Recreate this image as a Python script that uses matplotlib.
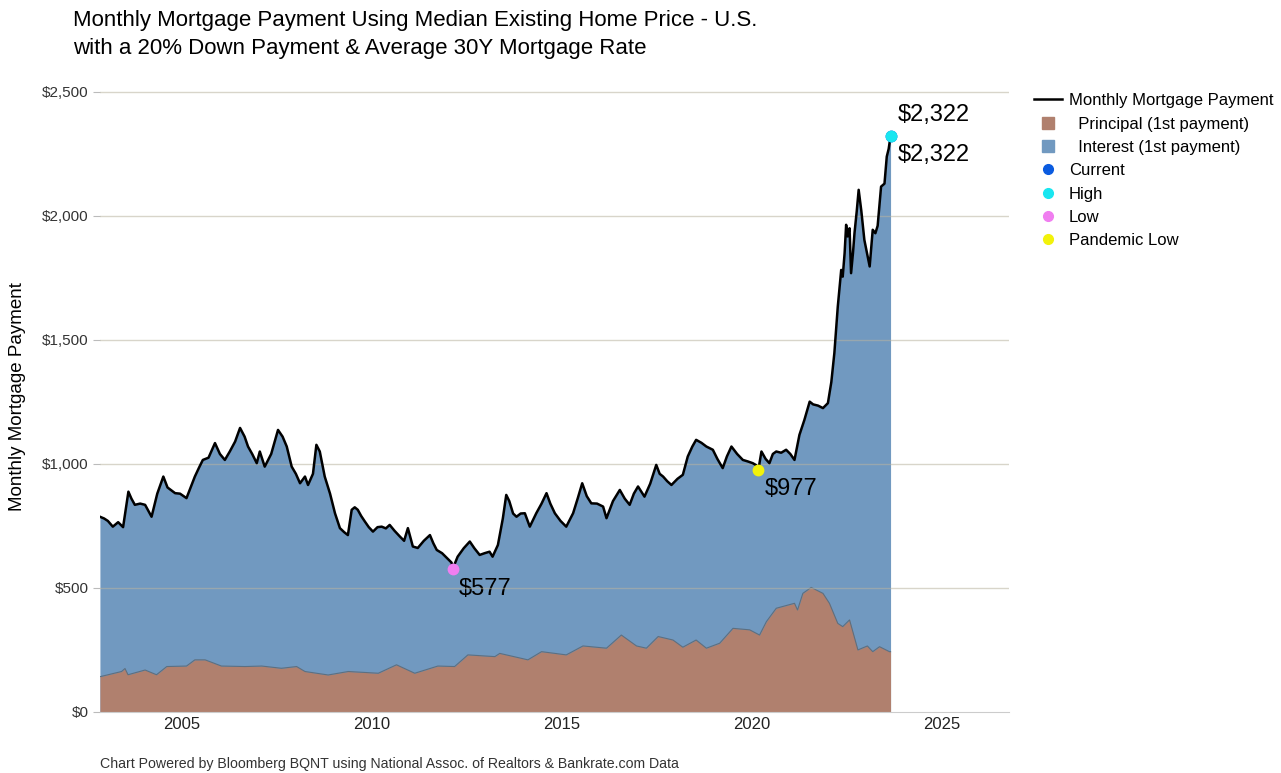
import numpy as np
import matplotlib
matplotlib.use("Agg")
import matplotlib.pyplot as plt
from matplotlib.lines import Line2D

plt.rcParams["font.family"] = ["Liberation Sans", "DejaVu Sans"]

# monthly payment (total), decimal years
t_total = [2002.84, 2002.95, 2003.05, 2003.18, 2003.32, 2003.45, 2003.59, 2003.67, 2003.76, 2003.90,
           2004.03, 2004.12, 2004.20, 2004.35, 2004.51, 2004.62, 2004.82, 2004.95, 2005.12, 2005.34,
           2005.45, 2005.55, 2005.70, 2005.87, 2006.00, 2006.13, 2006.26, 2006.40, 2006.53, 2006.65,
           2006.74, 2006.85, 2006.97, 2007.05, 2007.18, 2007.35, 2007.53, 2007.65, 2007.76, 2007.89,
           2008.00, 2008.11, 2008.24, 2008.32, 2008.45, 2008.54, 2008.63, 2008.76, 2008.90, 2009.03,
           2009.16, 2009.27, 2009.37, 2009.47, 2009.55, 2009.63, 2009.72, 2009.82, 2009.92, 2010.03,
           2010.15, 2010.26, 2010.37, 2010.47, 2010.60, 2010.74, 2010.85, 2010.95, 2011.08, 2011.21,
           2011.37, 2011.53, 2011.62, 2011.71, 2011.85, 2011.98, 2012.10, 2012.13, 2012.26, 2012.42,
           2012.58, 2012.70, 2012.84, 2012.97, 2013.10, 2013.18, 2013.32, 2013.45, 2013.54, 2013.62,
           2013.72, 2013.81, 2013.92, 2014.03, 2014.16, 2014.33, 2014.47, 2014.60, 2014.70, 2014.82,
           2014.97, 2015.12, 2015.30, 2015.42, 2015.54, 2015.66, 2015.78, 2015.93, 2016.09, 2016.18,
           2016.35, 2016.53, 2016.66, 2016.79, 2016.90, 2017.01, 2017.18, 2017.33, 2017.49, 2017.58,
           2017.67, 2017.78, 2017.89, 2018.05, 2018.19, 2018.32, 2018.44, 2018.54, 2018.68, 2018.81,
           2018.98, 2019.10, 2019.24, 2019.35, 2019.47, 2019.62, 2019.77, 2019.90, 2020.03, 2020.12,
           2020.18, 2020.26, 2020.37, 2020.47, 2020.56, 2020.65, 2020.78, 2020.91, 2021.02, 2021.13,
           2021.26, 2021.39, 2021.53, 2021.62, 2021.75, 2021.88, 2022.01, 2022.10, 2022.18, 2022.27,
           2022.36, 2022.40, 2022.45, 2022.49, 2022.53, 2022.58, 2022.62, 2022.67, 2022.71, 2022.77,
           2022.82, 2022.89, 2022.97, 2023.04, 2023.11, 2023.19, 2023.26, 2023.32, 2023.41, 2023.50,
           2023.56, 2023.61, 2023.66]
total = [787, 780, 770, 747, 765, 745, 888, 860, 835, 840,
         835, 810, 787, 880, 949, 905, 882, 880, 862, 949,
         985, 1016, 1025, 1084, 1040, 1016, 1050, 1090, 1145, 1110,
         1070, 1040, 1003, 1050, 989, 1040, 1137, 1110, 1070, 989,
         960, 922, 949, 915, 960, 1077, 1050, 949, 880, 801,
         741, 725, 713, 815, 825, 815, 790, 767, 745, 727,
         745, 747, 740, 754, 730, 707, 690, 741, 667, 661,
         690, 713, 680, 653, 640, 620, 602, 577, 626, 660,
         687, 660, 633, 640, 646, 626, 673, 780, 875, 850,
         800, 787, 800, 801, 747, 801, 840, 882, 840, 801,
         770, 747, 801, 860, 922, 870, 841, 840, 828, 781,
         850, 895, 860, 835, 880, 909, 868, 920, 996, 960,
         949, 930, 915, 940, 956, 1030, 1070, 1097, 1085, 1070,
         1057, 1020, 983, 1030, 1070, 1040, 1016, 1010, 1003, 995,
         977, 1050, 1020, 1003, 1040, 1050, 1045, 1057, 1040, 1016,
         1117, 1177, 1251, 1240, 1235, 1225, 1245, 1330, 1447, 1634,
         1782, 1755, 1850, 1964, 1917, 1950, 1769, 1850, 1930, 2020,
         2105, 2020, 1903, 1850, 1796, 1944, 1930, 1960, 2118, 2130,
         2239, 2270, 2322]

# principal part of the first payment
t_princ = [2002.84, 2003.41, 2003.50, 2003.58, 2004.03, 2004.33, 2004.60, 2005.12, 2005.34, 2005.61,
           2006.04, 2006.66, 2007.10, 2007.62, 2008.02, 2008.24, 2008.85, 2009.38, 2010.17, 2010.65,
           2011.13, 2011.74, 2012.18, 2012.53, 2013.24, 2013.37, 2014.11, 2014.47, 2015.12, 2015.56,
           2016.18, 2016.57, 2016.97, 2017.23, 2017.54, 2017.93, 2018.19, 2018.54, 2018.81, 2019.16,
           2019.51, 2019.95, 2020.21, 2020.39, 2020.65, 2021.13, 2021.21, 2021.35, 2021.57, 2021.88,
           2022.05, 2022.27, 2022.40, 2022.58, 2022.80, 2023.05, 2023.19, 2023.37, 2023.63, 2023.66]
principal = [142, 163, 175, 150, 169, 150, 183, 185, 210, 210,
             185, 183, 185, 176, 183, 163, 149, 163, 156, 190,
             156, 185, 183, 230, 223, 236, 210, 243, 230, 266,
             257, 310, 266, 257, 304, 290, 261, 290, 257, 277,
             337, 331, 310, 364, 418, 438, 411, 478, 502, 478,
             438, 357, 344, 371, 250, 266, 243, 263, 243, 243]

marks = {"Current": (2023.66, 2322), "High": (2023.66, 2322),
         "Low": (2012.13, 577), "Pandemic Low": (2020.18, 977)}
mark_colors = {"Current": "#0a5be0", "High": "#19e6f0", "Low": "#f07ef0", "Pandemic Low": "#f2f20a"}

brown = "#b0806e"
blue = "#7199c0"

fig = plt.figure(figsize=(12.81, 7.73), dpi=100)
ax = fig.add_axes([0.078, 0.079, 0.71, 0.815])

ax.fill_between(t_total, 0, total, color=blue, lw=0, zorder=1)
ax.fill_between(t_princ, 0, principal, color=brown, lw=0, zorder=2)
ax.plot(t_princ, principal, color="#5d6f80", lw=0.8, zorder=3)
ax.plot(t_total, total, color="black", lw=1.8, zorder=5)

for y in [500, 1000, 1500, 2000, 2500]:
    ax.axhline(y, color="#b9b4a0", lw=1, alpha=0.55, zorder=4)

for k in ["Current", "High", "Low", "Pandemic Low"]:
    x, y = marks[k]
    ax.plot(x, y, "o", color=mark_colors[k], ms=7.5, zorder=6)

ax.text(2023.85, 2322 + 40, "$2,322", fontsize=17, va="bottom", ha="left")
ax.text(2023.85, 2322 - 32, "$2,322", fontsize=17, va="top", ha="left")
ax.text(2012.3, 577 - 35, "$577", fontsize=17, va="top", ha="left")
ax.text(2020.35, 977 - 32, "$977", fontsize=17, va="top", ha="left")

ax.set_xlim(2002.84, 2026.79)
ax.set_ylim(0, 2540)
ax.set_xticks([2005, 2010, 2015, 2020, 2025])
ax.set_xticklabels(["2005", "2010", "2015", "2020", "2025"])
ax.set_yticks([0, 500, 1000, 1500, 2000, 2500])
ax.set_yticklabels(["$0", "$500", "$1,000", "$1,500", "$2,000", "$2,500"])
ax.tick_params(axis="x", length=0, labelsize=12, pad=4, labelcolor="#222222")
ax.tick_params(axis="y", length=5, color="#bbbbbb", labelsize=11, pad=3, labelcolor="#333333")
for s in ["top", "right", "left"]:
    ax.spines[s].set_visible(False)
ax.spines["bottom"].set_color("#cccccc")
ax.set_ylabel("Monthly Mortgage Payment", fontsize=13.5, labelpad=12)

fig.text(0.057, 0.973, "Monthly Mortgage Payment Using Median Existing Home Price - U.S.",
         fontsize=16, va="center", ha="left")
fig.text(0.057, 0.937, "with a 20% Down Payment & Average 30Y Mortgage Rate",
         fontsize=16, va="center", ha="left")
fig.text(0.078, 0.002, "Chart Powered by Bloomberg BQNT using National Assoc. of Realtors & Bankrate.com Data",
         fontsize=10.2, color="#333333", va="bottom", ha="left")

handles = [Line2D([], [], color="black", lw=1.8),
           Line2D([], [], ls="", marker="s", ms=9, color=brown),
           Line2D([], [], ls="", marker="s", ms=9, color=blue)]
labels = ["Monthly Mortgage Payment", "  Principal (1st payment)", "  Interest (1st payment)"]
for k in ["Current", "High", "Low", "Pandemic Low"]:
    handles.append(Line2D([], [], ls="", marker="o", ms=7, color=mark_colors[k]))
    labels.append(k)
fig.legend(handles, labels, loc="upper left", bbox_to_anchor=(0.802, 0.888), frameon=False,
           fontsize=12, handlelength=1.7, handletextpad=0.4, labelspacing=0.5, borderaxespad=0)

fig.savefig("out.png", dpi=100)
